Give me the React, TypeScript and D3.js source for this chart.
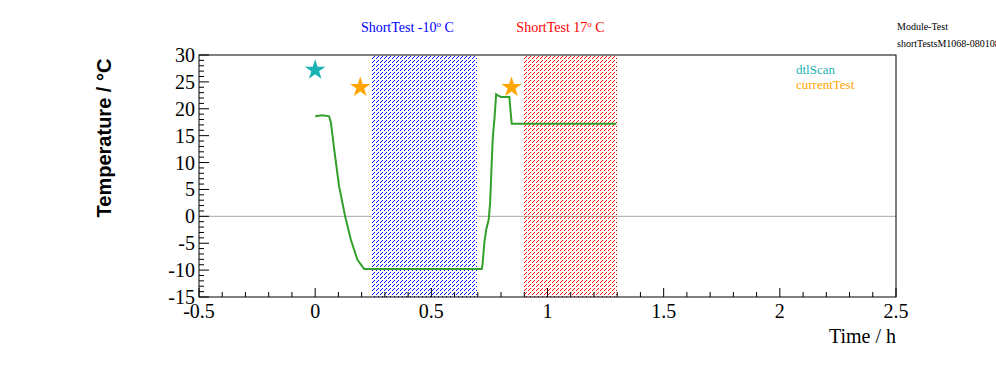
import React, { useRef, useEffect } from "react";
import * as d3 from "d3";

// temperature run (time in h, temperature in deg C)
const times = [0, 0.03, 0.06, 0.068, 0.082, 0.103, 0.129, 0.154, 0.182, 0.211, 0.717, 0.721, 0.728, 0.736, 0.747, 0.753, 0.757, 0.764, 0.772, 0.779, 0.786, 0.8, 0.836, 0.839, 0.846, 1.296];
const temps = [18.6, 18.8, 18.6, 17.4, 12.4, 5.6, 0, -4.4, -8.1, -9.8, -9.8, -8.7, -5, -2.5, -0.6, 2.5, 6.8, 14.3, 18.3, 22.7, 22.5, 22.2, 22.2, 20.5, 17.2, 17.2];

const markerNames = ["dtlScan", "currentTest", "currentTest"];
const markerTimes = [0, 0.194, 0.845];
const markerTemps = [27.2, 24, 24];

const boxLabels = ["ShortTest -10", "ShortTest 17"];
const boxLabelTimes = [0.397, 1.056];
const boxStart = [0.245, 0.9];
const boxEnd = [0.695, 1.3];

const xTicks = [-0.5, 0, 0.5, 1, 1.5, 2, 2.5];
const yTicks = [-15, -10, -5, 0, 5, 10, 15, 20, 25, 30];

const colors: Record<string, string> = { dtlScan: "#1ab3b3", currentTest: "#ffa500" };
const boxColors = ["#0000ff", "#ff0000"];

function App() {
    const svgRef = useRef<SVGSVGElement>(null);

    useEffect(() => {
        const svg = d3.select(svgRef.current);
        svg.selectAll("*").remove();
        const width = 996;
        const height = 372;
        const frame = { left: 199, right: 896, top: 55, bottom: 297 };
        const serif = "'Liberation Serif', 'Times New Roman', serif";

        const x = d3.scaleLinear().domain([-0.5, 2.5]).range([frame.left, frame.right]);
        const y = d3.scaleLinear().domain([-15, 30]).range([frame.bottom, frame.top]);

        const defs = svg.append("defs");
        boxColors.forEach((c, i) => {
            const p = defs.append("pattern")
                .attr("id", "hatch" + i)
                .attr("patternUnits", "userSpaceOnUse")
                .attr("width", 4).attr("height", 4);
            p.append("path")
                .attr("d", "M0,2h1v1h-1zM1,1h1v1h-1zM2,0h1v1h-1z")
                .attr("shape-rendering", "crispEdges")
                .style("fill", c);
        });

        // zero line
        svg.append("line")
            .attr("x1", frame.left).attr("x2", frame.right)
            .attr("y1", y(0)).attr("y2", y(0))
            .attr("stroke", "#aaa59e").attr("stroke-width", 1);

        // test boxes
        boxLabels.forEach((label, i) => {
            const x0 = Math.round(x(boxStart[i]));
            const x1 = Math.round(x(boxEnd[i]));
            if (i === 0) {
                svg.append("rect").attr("x", x0).attr("y", frame.top)
                    .attr("width", x1 - x0).attr("height", frame.bottom - frame.top)
                    .attr("fill", "white");
            }
            svg.append("rect").attr("x", x0).attr("y", frame.top)
                .attr("width", x1 - x0).attr("height", frame.bottom - frame.top)
                .attr("shape-rendering", "crispEdges")
                .style("fill", `url(#hatch${i})`);
            const t = svg.append("text")
                .attr("x", x(boxLabelTimes[i])).attr("y", 32)
                .attr("text-anchor", "middle")
                .attr("font-family", serif).attr("font-size", 14)
                .attr("fill", boxColors[i]);
            t.append("tspan").text(label);
            t.append("tspan").attr("dy", -5).attr("font-size", 9).text("o");
            t.append("tspan").attr("dy", 5).text(" C");
        });

        const line = d3.line<number>()
            .x((_, i) => x(times[i]))
            .y((d) => y(d));
        svg.append("path")
            .datum(temps)
            .attr("d", line)
            .attr("fill", "none")
            .attr("stroke", "#33a02c")
            .attr("stroke-width", 2);

        const star = d3.symbol().type(d3.symbolStar).size(130);
        svg.selectAll(".marker")
            .data(markerTimes)
            .enter()
            .append("path")
            .attr("class", "marker")
            .attr("d", star)
            .attr("transform", (d, i) => `translate(${x(d)},${y(markerTemps[i])})`)
            .attr("fill", (_, i) => colors[markerNames[i]]);

        // frame
        svg.append("rect")
            .attr("x", frame.left).attr("y", frame.top)
            .attr("width", frame.right - frame.left).attr("height", frame.bottom - frame.top)
            .attr("fill", "none").attr("stroke", "black").attr("stroke-width", 1);

        // x axis ticks
        const xMinor = d3.range(-0.5, 2.5001, 0.1);
        svg.append("g").selectAll("line")
            .data(xMinor)
            .enter().append("line")
            .attr("x1", (d) => x(d)).attr("x2", (d) => x(d))
            .attr("y1", frame.bottom)
            .attr("y2", (d, i) => frame.bottom - (i % 5 === 0 ? 9 : 5))
            .attr("stroke", "black");
        svg.append("g").selectAll("text")
            .data(xTicks)
            .enter().append("text")
            .attr("x", (d) => x(d)).attr("y", 318)
            .attr("text-anchor", "middle")
            .attr("font-family", serif).attr("font-size", 20)
            .text((d) => String(d));

        // y axis ticks
        const yMinor = d3.range(-15, 30.001, 1);
        svg.append("g").selectAll("line")
            .data(yMinor)
            .enter().append("line")
            .attr("y1", (d) => y(d)).attr("y2", (d) => y(d))
            .attr("x1", frame.left)
            .attr("x2", (d, i) => frame.left + (i % 5 === 0 ? 10 : 5))
            .attr("stroke", "black");
        svg.append("g").selectAll("text")
            .data(yTicks)
            .enter().append("text")
            .attr("x", 195).attr("y", (d) => y(d) + 7)
            .attr("text-anchor", "end")
            .attr("font-family", serif).attr("font-size", 20)
            .text((d) => String(d));

        svg.append("text")
            .attr("x", 896).attr("y", 343)
            .attr("text-anchor", "end")
            .attr("font-family", serif).attr("font-size", 20)
            .text("Time / h");

        svg.append("text")
            .attr("transform", "translate(111,138) rotate(-90)")
            .attr("text-anchor", "middle")
            .attr("font-family", "'Liberation Sans', Arial, sans-serif")
            .attr("font-weight", "bold").attr("font-size", 20)
            .text("Temperature / °C");

        // legend
        ["dtlScan", "currentTest"].forEach((name, i) => {
            svg.append("text")
                .attr("x", 796).attr("y", 74 + i * 15)
                .attr("font-family", serif).attr("font-size", 13)
                .attr("fill", colors[name])
                .text(name);
        });

        svg.append("text")
            .attr("x", 897).attr("y", 30)
            .attr("font-family", serif).attr("font-size", 10)
            .text("Module-Test");
        svg.append("text")
            .attr("x", 897).attr("y", 47)
            .attr("font-family", serif).attr("font-size", 10)
            .text("shortTestsM1068-080108");

        svg.attr("width", width).attr("height", height);
    }, []);

    return (
        <svg ref={svgRef} style={{ position: "absolute", left: 0, top: 0, background: "white" }}></svg>
    );
}

export default App;
